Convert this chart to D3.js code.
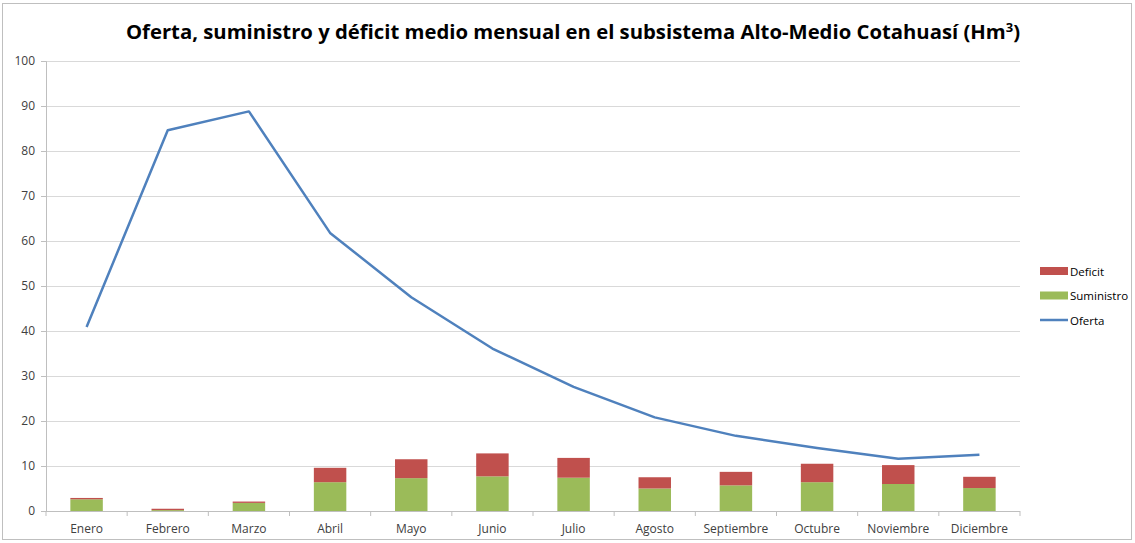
<!DOCTYPE html>
<html>
<head>
<meta charset="utf-8">
<script src="https://cdn.jsdelivr.net/npm/d3@7"></script>
<style>
  html, body { margin: 0; padding: 0; background: #fff; }
  svg { display: block; }
</style>
</head>
<body>
<svg id="chart" width="1135" height="543"></svg>
<script>
// Monthly values (Hm³) for the Alto-Medio Cotahuasí subsystem
const months = ["Enero", "Febrero", "Marzo", "Abril", "Mayo", "Junio", "Julio",
                "Agosto", "Septiembre", "Octubre", "Noviembre", "Diciembre"];
const oferta     = [40.9, 84.6, 88.8, 61.8, 47.5, 36.1, 27.6, 20.8, 16.7, 14.0, 11.6, 12.5];
const suministro = [2.6, 0.2, 1.8, 6.4, 7.3, 7.7, 7.4, 5.0, 5.7, 6.4, 6.0, 5.1];
const deficit    = [0.3, 0.3, 0.3, 3.2, 4.2, 5.1, 4.4, 2.5, 3.0, 4.1, 4.2, 2.5];
const yTicks = [0, 10, 20, 30, 40, 50, 60, 70, 80, 90, 100];

const colors = { deficit: "#C0504D", suministro: "#9BBB59", oferta: "#4F81BD" };
const font = "'Open Sans', 'DejaVu Sans', sans-serif";

const svg = d3.select("#chart");
const margin = { left: 46, right: 115, top: 61, bottom: 32 };
const plotW = 1020 - margin.left;
const plotH = 511 - margin.top;

// chart frame
svg.append("rect")
  .attr("x", 2.5).attr("y", 3.5).attr("width", 1129).attr("height", 536)
  .attr("fill", "#fff").attr("stroke", "#bfbfbf").attr("stroke-width", 1);

// title
const title = svg.append("text")
  .attr("x", 573).attr("y", 39)
  .attr("text-anchor", "middle")
  .attr("font-family", font).attr("font-weight", "bold")
  .attr("font-size", 20.3).attr("fill", "#000");
title.append("tspan").text("Oferta, suministro y déficit medio mensual en el subsistema Alto-Medio Cotahuasí (Hm");
title.append("tspan").attr("dy", -7).attr("font-size", 13).text("3");
title.append("tspan").attr("dy", 7).text(")");

const g = svg.append("g").attr("transform", `translate(${margin.left},${margin.top})`);

const x = d3.scaleBand().domain(months).range([0, plotW]).paddingInner(0.6).paddingOuter(0.3);
const xc = d3.scalePoint().domain(months).range([0, plotW]).padding(0.5);
const y = d3.scaleLinear().domain([0, 100]).range([plotH, 0]);

// gridlines
g.append("g")
  .selectAll("line").data(yTicks.filter(d => d > 0)).join("line")
  .attr("x1", 0).attr("x2", plotW)
  .attr("y1", d => y(d) + 0.5).attr("y2", d => y(d) + 0.5)
  .attr("stroke", "#d9d9d9").attr("stroke-width", 1);

// y axis
const yAxis = g.append("g")
  .call(d3.axisLeft(y).tickValues(yTicks).tickSize(5).tickPadding(6));
yAxis.select(".domain").attr("stroke", "#bfbfbf");
yAxis.selectAll(".tick line").attr("stroke", "#bfbfbf");
yAxis.selectAll("text").attr("font-family", font).attr("font-size", 12).attr("fill", "#404040");

// x axis with tick marks on category boundaries
const xAxisG = g.append("g").attr("transform", `translate(0,${plotH})`);
xAxisG.append("line").attr("x1", -5).attr("x2", plotW).attr("y1", 0.5).attr("y2", 0.5)
  .attr("stroke", "#bfbfbf");
const step = plotW / months.length;
xAxisG.selectAll("line.tk").data(d3.range(months.length + 1)).join("line")
  .attr("class", "tk")
  .attr("x1", i => i * step).attr("x2", i => i * step)
  .attr("y1", 0).attr("y2", 5).attr("stroke", "#bfbfbf");
xAxisG.selectAll("text").data(months).join("text")
  .attr("x", d => xc(d)).attr("y", 22)
  .attr("text-anchor", "middle")
  .attr("font-family", font).attr("font-size", 12).attr("fill", "#404040")
  .text(d => d);

// stacked bars: suministro at the base, deficit on top
const stackData = months.map((m, i) => ({ month: m, suministro: suministro[i], deficit: deficit[i] }));
const series = d3.stack().keys(["suministro", "deficit"])(stackData);
g.append("g").selectAll("g").data(series).join("g")
  .attr("fill", s => colors[s.key])
  .selectAll("rect").data(s => s).join("rect")
  .attr("x", d => x(d.data.month))
  .attr("width", x.bandwidth())
  .attr("y", d => y(d[1]))
  .attr("height", d => y(d[0]) - y(d[1]));

// oferta line
const line = d3.line().x((d, i) => xc(months[i])).y(d => y(d));
g.append("path").datum(oferta)
  .attr("d", line)
  .attr("fill", "none")
  .attr("stroke", colors.oferta)
  .attr("stroke-width", 2.5)
  .attr("stroke-linejoin", "round");

// legend
const legendItems = [
  { key: "deficit", label: "Deficit", type: "rect" },
  { key: "suministro", label: "Suministro", type: "rect" },
  { key: "oferta", label: "Oferta", type: "line" }
];
const lg = svg.append("g").attr("transform", "translate(1040,271)");
legendItems.forEach((it, i) => {
  const row = lg.append("g").attr("transform", `translate(0,${i * 24.5})`);
  if (it.type === "rect") {
    row.append("rect").attr("x", 0).attr("y", -4).attr("width", 28).attr("height", 8)
      .attr("fill", colors[it.key]);
  } else {
    row.append("line").attr("x1", 0).attr("x2", 28).attr("y1", 0).attr("y2", 0)
      .attr("stroke", colors[it.key]).attr("stroke-width", 2.5);
  }
  row.append("text").attr("x", 30).attr("y", 4.5)
    .attr("font-family", font).attr("font-size", 11.5).attr("fill", "#000")
    .text(it.label);
});
</script>
</body>
</html>
